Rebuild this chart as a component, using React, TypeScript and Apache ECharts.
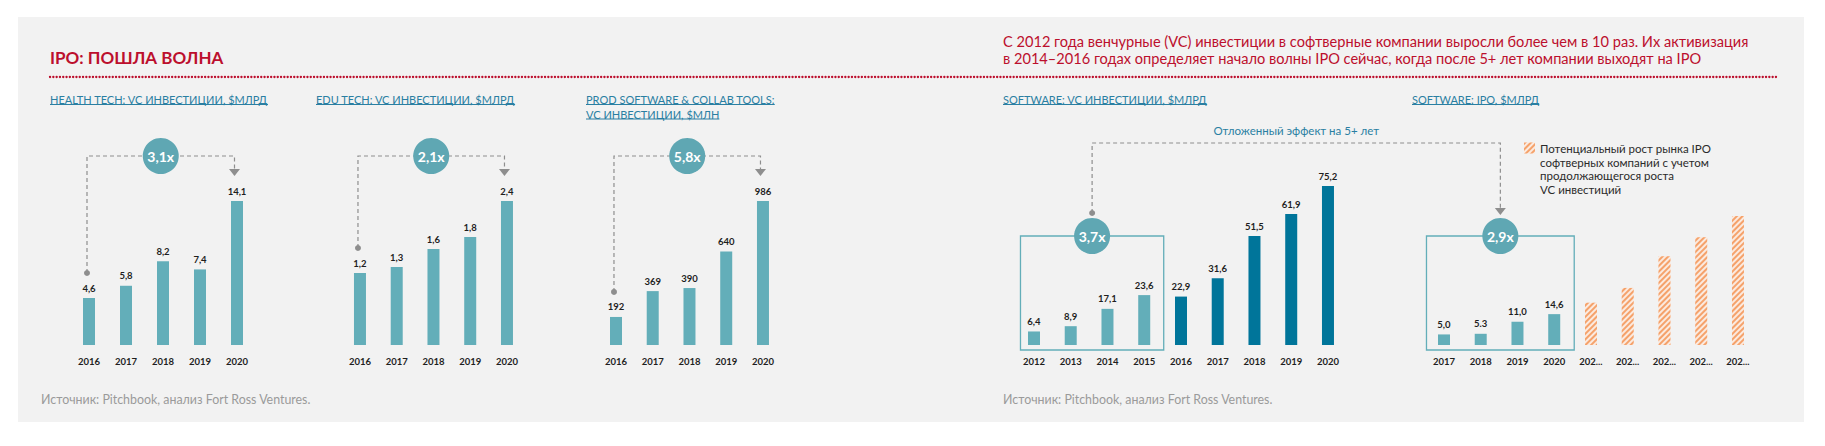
import React, { useEffect, useRef } from 'react';
import * as echarts from 'echarts';

// ---------- data ----------
const healthYears = ['2016', '2017', '2018', '2019', '2020'];
const healthValues = [4.6, 5.8, 8.2, 7.4, 14.1];
const eduYears = ['2016', '2017', '2018', '2019', '2020'];
const eduValues = [1.2, 1.3, 1.6, 1.8, 2.4];
const prodYears = ['2016', '2017', '2018', '2019', '2020'];
const prodValues = [192, 369, 390, 640, 986];
const vcYears = ['2012', '2013', '2014', '2015', '2016', '2017', '2018', '2019', '2020'];
const vcValues = [6.4, 8.9, 17.1, 23.6, 22.9, 31.6, 51.5, 61.9, 75.2];
const vcEarlyCount = 4;
const ipoYears = ['2017', '2018', '2019', '2020', '202...', '202...', '202...', '202...', '202...'];
const ipoActual = [5.0, 5.3, 11.0, 14.6];
const ipoActualLabels = ['5,0', '5.3', '11,0', '14,6'];
const ipoForecast = [20, 27, 42, 51, 61];
const multipliers = ['3,1x', '2,1x', '5,8x', '3,7x', '2,9x'];

// ---------- texts ----------
const titleText = 'IPO: ПОШЛА ВОЛНА';
const leadLines = [
  'С 2012 года венчурные (VC) инвестиции в софтверные компании выросли более чем в 10 раз. Их активизация',
  'в 2014–2016 годах определяет начало волны IPO сейчас, когда после 5+ лет компании выходят на IPO',
];
const subtitles = [
  ['HEALTH TECH: VC ИНВЕСТИЦИИ, $МЛРД'],
  ['EDU TECH: VC ИНВЕСТИЦИИ, $МЛРД'],
  ['PROD SOFTWARE & COLLAB TOOLS:', 'VC ИНВЕСТИЦИИ, $МЛН'],
  ['SOFTWARE: VC ИНВЕСТИЦИИ, $МЛРД'],
  ['SOFTWARE: IPO, $МЛРД'],
];
const delayText = 'Отложенный эффект на 5+ лет';
const forecastName = 'Потенциальный рост рынка IPO';
const forecastMore = ['софтверных компаний с учетом', 'продолжающегося роста', 'VC инвестиций'];
const sourceText = 'Источник: Pitchbook, анализ Fort Ross Ventures.';

// ---------- styles ----------
const W = 1825;
const H = 446;
const FONT = 'Lato, "Noto Sans", sans-serif';
const LIGHT = '#63AEB9';
const DARK = '#00759A';
const CIRCLE = '#5FA7B3';
const GRAY = '#8E8E8E';
const RED = '#BC0F2D';
const BLUE = '#2A7FA2';
const INK = '#1E1E1E';

function measure(text: string, font: string): number {
  const c = document.createElement('canvas').getContext('2d');
  if (!c) return text.length * 6;
  c.font = font;
  return c.measureText(text).width;
}

const grids = [
  { left: 70.5, top: 201, width: 185, height: 144 },
  { left: 341.6, top: 201, width: 183.75, height: 144 },
  { left: 597.6, top: 201, width: 183.75, height: 144 },
  { left: 1015.6, top: 186, width: 330.75, height: 159 },
  { left: 1425.6, top: 186, width: 330.75, height: 159 },
];

const fmt1 = (v: number) => v.toFixed(1).replace('.', ',');

const valueLabel = (formatter: any) => ({
  show: true,
  position: 'top',
  distance: 5,
  fontFamily: FONT,
  fontSize: 9.5,
  fontWeight: 'bold',
  color: INK,
  formatter,
});

function buildOption() {
  const cats = [healthYears, eduYears, prodYears, vcYears, ipoYears];
  const maxes = [
    Math.max(...healthValues),
    Math.max(...eduValues),
    Math.max(...prodValues),
    Math.max(...vcValues),
    Math.max(...vcValues),
  ];
  const xAxis = cats.map((data, i) => ({
    type: 'category',
    gridIndex: i,
    data,
    axisLine: { show: false },
    axisTick: { show: false },
    axisLabel: {
      interval: 0,
      margin: 11,
      fontFamily: FONT,
      fontSize: 9.5,
      fontWeight: 'bold',
      color: INK,
    },
  }));
  const yAxis = maxes.map((max, i) => ({
    type: 'value',
    gridIndex: i,
    min: 0,
    max,
    show: false,
    splitLine: { show: false },
  }));
  const nulls4 = ipoActual.map(() => null);
  const nulls5 = ipoForecast.map(() => null);
  const series: any[] = [
    {
      type: 'bar', xAxisIndex: 0, yAxisIndex: 0, barWidth: 12, data: healthValues,
      itemStyle: { color: LIGHT }, label: valueLabel((p: any) => fmt1(p.value)),
    },
    {
      type: 'bar', xAxisIndex: 1, yAxisIndex: 1, barWidth: 12, data: eduValues,
      itemStyle: { color: LIGHT }, label: valueLabel((p: any) => fmt1(p.value)),
    },
    {
      type: 'bar', xAxisIndex: 2, yAxisIndex: 2, barWidth: 12, data: prodValues,
      itemStyle: { color: LIGHT }, label: valueLabel((p: any) => String(p.value)),
    },
    {
      type: 'bar', xAxisIndex: 3, yAxisIndex: 3, barWidth: 12, data: vcValues,
      itemStyle: { color: (p: any) => (p.dataIndex < vcEarlyCount ? LIGHT : DARK) },
      label: valueLabel((p: any) => fmt1(p.value)),
    },
    {
      type: 'bar', xAxisIndex: 4, yAxisIndex: 4, barWidth: 12, barGap: '-100%',
      data: [...ipoActual, ...nulls5],
      itemStyle: { color: LIGHT },
      label: valueLabel((p: any) => ipoActualLabels[p.dataIndex] ?? ''),
    },
    {
      name: forecastName,
      type: 'bar', xAxisIndex: 4, yAxisIndex: 4, barWidth: 12, barGap: '-100%',
      data: [...nulls4, ...ipoForecast],
      itemStyle: {
        color: '#FBEADF',
        decal: {
          symbol: 'rect',
          symbolSize: 1,
          color: '#F5A26B',
          dashArrayX: [1, 0],
          dashArrayY: [2, 2],
          rotation: -Math.PI / 4,
        },
      },
      label: { show: false },
    },
  ];
  return {
    animation: false,
    backgroundColor: 'transparent',
    grid: grids.map((g) => ({ ...g, containLabel: false })),
    xAxis,
    yAxis,
    series,
    legend: {
      data: [forecastName],
      left: 1524,
      top: 142,
      itemWidth: 11,
      itemHeight: 11,
      icon: 'rect',
      selectedMode: false,
      padding: 0,
      textStyle: { fontFamily: FONT, fontSize: 11.5, color: '#2A2A2A' },
    },
  };
}

function buildGraphics(chart: any) {
  const els: any[] = [];
  const px = (gi: number, idx: number, v: number) =>
    chart.convertToPixel({ xAxisIndex: gi, yAxisIndex: gi }, [idx, v]) as number[];

  // title + lead
  els.push({
    type: 'text', x: 50, y: 57,
    style: { text: titleText, fill: RED, font: `bold 17px ${FONT}`, align: 'left', verticalAlign: 'middle' },
  });
  leadLines.forEach((t, i) => {
    els.push({
      type: 'text', x: 1003, y: 41.5 + i * 16.5,
      style: { text: t, fill: RED, font: `14.6px ${FONT}`, align: 'left', verticalAlign: 'middle' },
    });
  });
  // dotted separator
  els.push({
    type: 'line',
    shape: { x1: 50, y1: 77, x2: 1778, y2: 77 },
    style: { stroke: RED, lineWidth: 2.3, lineDash: [0.1, 3.2], lineCap: 'round' },
  });

  // subtitles
  const subX = [50, 316, 586, 1003, 1412];
  const subFont = `11px ${FONT}`;
  subtitles.forEach((lines, i) => {
    lines.forEach((t, j) => {
      const y = 99.5 + j * 14.5;
      els.push({
        type: 'text', x: subX[i], y,
        style: { text: t, fill: BLUE, font: subFont, align: 'left', verticalAlign: 'middle' },
      });
      const w = measure(t, subFont);
      els.push({
        type: 'line',
        shape: { x1: subX[i], y1: y + 5, x2: subX[i] + w, y2: y + 5 },
        style: { stroke: BLUE, lineWidth: 1 },
      });
    });
  });

  // brackets for the three small charts
  const small = [
    { gi: 0, vals: healthValues },
    { gi: 1, vals: eduValues },
    { gi: 2, vals: prodValues },
  ];
  small.forEach(({ gi, vals }) => {
    const last = vals.length - 1;
    const [x0, y0] = px(gi, 0, vals[0]);
    const [x1, y1] = px(gi, last, vals[last]);
    const lx = x0 - 2;
    const rx = x1 - 2.5;
    const dotY = y0 - 25;
    const lineY = 156;
    const arrowTop = y1 - 32;
    els.push({
      type: 'polyline',
      shape: { points: [[lx, dotY], [lx, lineY], [rx, lineY], [rx, arrowTop]] },
      style: { stroke: GRAY, lineWidth: 1.2, lineDash: [4, 3], fill: null },
    });
    els.push({ type: 'circle', shape: { cx: lx, cy: dotY, r: 3 }, style: { fill: GRAY } });
    els.push({
      type: 'polygon',
      shape: { points: [[rx - 5.5, arrowTop], [rx + 5.5, arrowTop], [rx, arrowTop + 7]] },
      style: { fill: GRAY },
    });
    const mx = (lx + rx) / 2;
    els.push({ type: 'circle', shape: { cx: mx, cy: lineY, r: 18 }, style: { fill: CIRCLE } });
    els.push({
      type: 'text', x: mx, y: lineY,
      style: { text: multipliers[gi], fill: '#fff', font: `bold 14px ${FONT}`, align: 'center', verticalAlign: 'middle' },
    });
  });

  // software boxes and delayed effect connector
  const boxTop = 236;
  const boxBottom = 350;
  const [va] = px(3, 0, 0);
  const [vb] = px(3, vcEarlyCount - 1, 0);
  const [ia] = px(4, 0, 0);
  const [ib] = px(4, ipoActual.length - 1, 0);
  const vcBox = { l: va - 13.5, r: vb + 19.5 };
  const ipoBox = { l: ia - 17.5, r: ib + 20 };
  [vcBox, ipoBox].forEach((b) => {
    els.push({
      type: 'rect',
      shape: { x: b.l, y: boxTop, width: b.r - b.l, height: boxBottom - boxTop },
      style: { fill: null, stroke: LIGHT, lineWidth: 1.3 },
    });
  });
  const vm = (vcBox.l + vcBox.r) / 2;
  const im = (ipoBox.l + ipoBox.r) / 2;
  els.push({
    type: 'polyline',
    shape: { points: [[vm, 213], [vm, 143], [im, 143], [im, 208]] },
    style: { stroke: GRAY, lineWidth: 1.2, lineDash: [4, 3], fill: null },
  });
  els.push({ type: 'circle', shape: { cx: vm, cy: 213, r: 3 }, style: { fill: GRAY } });
  els.push({
    type: 'polygon',
    shape: { points: [[im - 5.5, 208], [im + 5.5, 208], [im, 215]] },
    style: { fill: GRAY },
  });
  [[vm, multipliers[3]], [im, multipliers[4]]].forEach(([x, t]: any) => {
    els.push({ type: 'circle', shape: { cx: x, cy: boxTop, r: 18 }, style: { fill: CIRCLE } });
    els.push({
      type: 'text', x, y: boxTop,
      style: { text: t, fill: '#fff', font: `bold 14px ${FONT}`, align: 'center', verticalAlign: 'middle' },
    });
  });
  els.push({
    type: 'text', x: (vm + im) / 2, y: 130,
    style: { text: delayText, fill: BLUE, font: `11.5px ${FONT}`, align: 'center', verticalAlign: 'middle' },
  });

  // legend continuation lines
  forecastMore.forEach((t, i) => {
    els.push({
      type: 'text', x: 1540, y: 162 + i * 13.5,
      style: { text: t, fill: '#2A2A2A', font: `11.5px ${FONT}`, align: 'left', verticalAlign: 'middle' },
    });
  });

  // sources
  [41, 1003].forEach((x) => {
    els.push({
      type: 'text', x, y: 399,
      style: { text: sourceText, fill: '#9A9A9A', font: `12.4px ${FONT}`, align: 'left', verticalAlign: 'middle' },
    });
  });
  return els;
}

export default function App() {
  const ref = useRef<HTMLDivElement>(null);
  useEffect(() => {
    if (!ref.current) return;
    const chart = echarts.init(ref.current, null, { renderer: 'svg', width: W, height: H });
    chart.setOption(buildOption() as any);
    chart.setOption({ graphic: { elements: buildGraphics(chart) } } as any);
    return () => chart.dispose();
  }, []);
  return (
    <div style={{ position: 'absolute', left: 0, top: 0, width: W, height: H, background: '#fff' }}>
      <div
        style={{ position: 'absolute', left: 18, top: 17, width: 1786, height: 405, background: '#F2F2F2' }}
      />
      <div ref={ref} style={{ position: 'absolute', left: 0, top: 0, width: W, height: H }} />
    </div>
  );
}
